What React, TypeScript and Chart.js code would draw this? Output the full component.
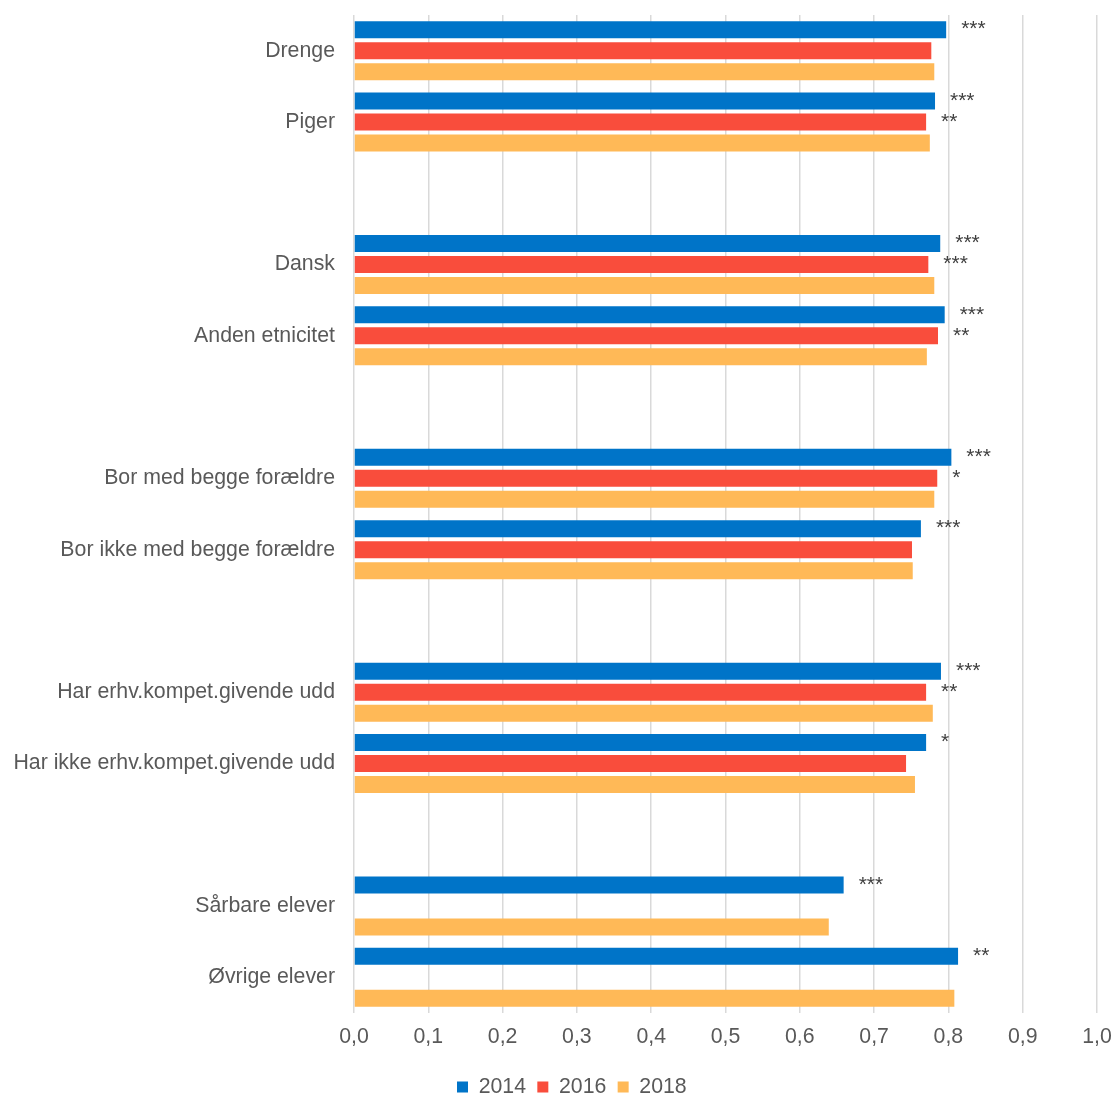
import React, { useEffect, useRef } from "react";
import { Chart, registerables } from "chart.js";

Chart.register(...registerables);

const categories = [
  "Drenge",
  "Piger",
  "",
  "Dansk",
  "Anden etnicitet",
  "",
  "Bor med begge forældre",
  "Bor ikke med begge forældre",
  "",
  "Har erhv.kompet.givende udd",
  "Har ikke erhv.kompet.givende udd",
  "",
  "Sårbare elever",
  "Øvrige elever",
];

const seriesNames = ["2014", "2016", "2018"];

const values2014 = [0.797, 0.782, null, 0.789, 0.795, null, 0.804, 0.763, null, 0.79, 0.77, null, 0.659, 0.813];
const values2016 = [0.777, 0.77, null, 0.773, 0.786, null, 0.785, 0.751, null, 0.77, 0.743, null, null, null];
const values2018 = [0.781, 0.775, null, 0.781, 0.771, null, 0.781, 0.752, null, 0.779, 0.755, null, 0.639, 0.808];

const sig2014 = ["***", "***", "", "***", "***", "", "***", "***", "", "***", "*", "", "***", "**"];
const sig2016 = ["", "**", "", "***", "**", "", "*", "", "", "**", "", "", "", ""];
const sig2018 = ["", "", "", "", "", "", "", "", "", "", "", "", "", ""];

const xMin = 0;
const xMax = 1;
const xStep = 0.1;

const colors = ["#0074C8", "#F94D3C", "#FFB957"];

const FONT = "'Liberation Sans', Arial, sans-serif";
const TEXT = "#595959";
const FS = 21.3;

const sigPlugin = {
  id: "sigLabels",
  afterDatasetsDraw(chart: any) {
    const sigs = [sig2014, sig2016, sig2018];
    const ctx = chart.ctx;
    ctx.save();
    ctx.font = `21px ${FONT}`;
    ctx.fillStyle = "#404040";
    ctx.textAlign = "left";
    ctx.textBaseline = "middle";
    sigs.forEach((arr, i) => {
      const meta = chart.getDatasetMeta(i);
      meta.data.forEach((bar: any, j: number) => {
        const label = arr[j];
        const v = chart.data.datasets[i].data[j];
        if (label && v != null) {
          ctx.fillText(label, bar.x + 15, bar.y);
        }
      });
    });
    ctx.restore();
  },
};

const legendPlace = {
  id: "legendPlace",
  afterLayout(chart: any) {
    const lg = chart.legend;
    if (!lg) return;
    const pad = lg.options.labels.padding;
    const lw = lg.lineWidths && lg.lineWidths.length ? lg.lineWidths[0] : 0;
    const startX = (lg.left + pad + lg.right - lw) / 2;
    const dx = 457 - startX;
    const curCenter = lg.top + pad + FS / 2;
    const dy = 1087 - curCenter;
    lg.left += dx;
    lg.right += dx;
    lg.top += dy;
    lg.bottom += dy;
  },
};

const zeroPad = (scale: any) => {
  scale.paddingTop = 0;
  scale.paddingBottom = 0;
  scale.paddingLeft = 0;
  scale.paddingRight = 0;
};

export default function App() {
  const ref = useRef<HTMLCanvasElement | null>(null);

  useEffect(() => {
    document.body.style.margin = "0";
    const canvas = ref.current;
    if (!canvas) return;
    const chart = new Chart(canvas, {
      type: "bar",
      data: {
        labels: categories,
        datasets: [values2014, values2016, values2018].map((d, i) => ({
          label: seriesNames[i],
          data: d,
          backgroundColor: colors[i],
          borderWidth: 0,
          categoryPercentage: 0.884,
          barPercentage: 0.81,
        })),
      },
      options: {
        indexAxis: "y",
        responsive: false,
        animation: false,
        layout: { padding: { top: 15, right: 17, left: 0, bottom: 0 } },
        plugins: {
          legend: {
            position: "bottom",
            labels: {
              boxWidth: 11,
              boxHeight: 11,
              padding: 11.3,
              color: TEXT,
              font: { family: FONT, size: FS },
            },
          },
          tooltip: { enabled: false },
        },
        scales: {
          x: {
            min: xMin,
            max: xMax,
            ticks: {
              stepSize: xStep,
              color: TEXT,
              font: { family: FONT, size: FS },
              padding: 11.2,
              callback: (v: any) => Number(v).toFixed(1).replace(".", ","),
            },
            grid: { color: "#D9D9D9", lineWidth: 1.5, drawTicks: false },
            border: { display: false },
            afterFit: (scale: any) => {
              zeroPad(scale);
              scale.height = 39.4;
            },
          },
          y: {
            ticks: {
              color: TEXT,
              font: { family: FONT, size: FS },
              padding: 19,
              autoSkip: false,
            },
            grid: { display: false, drawTicks: false },
            border: { display: false },
            afterFit: (scale: any) => {
              zeroPad(scale);
              scale.width = 354;
            },
          },
        },
      },
      plugins: [sigPlugin, legendPlace],
    });
    return () => chart.destroy();
  }, []);

  return (
    <div style={{ position: "absolute", left: 0, top: 0, width: 1114, height: 1095, background: "#fff" }}>
      <canvas ref={ref} width={1114} height={1095} />
    </div>
  );
}
